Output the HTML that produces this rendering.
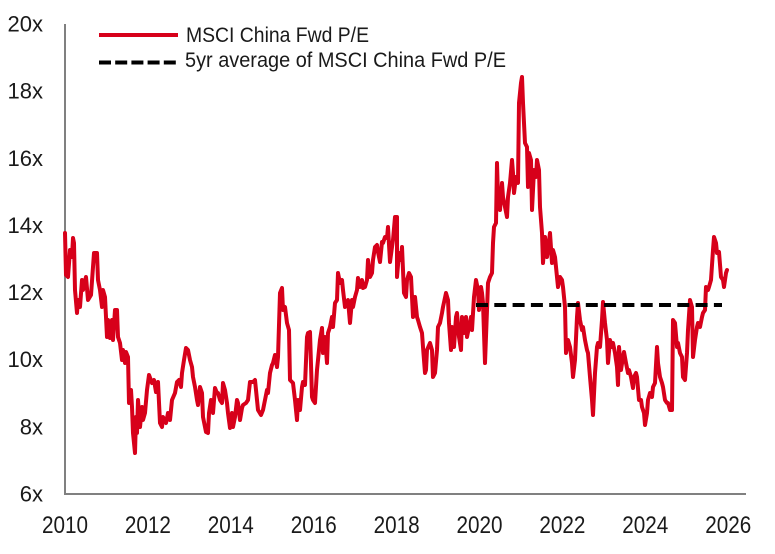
<!DOCTYPE html>
<html>
<head>
<meta charset="utf-8">
<style>
  html,body{margin:0;padding:0;background:#fff;}
  svg{display:block;}
  text{font-family:"Liberation Sans",Arial,sans-serif;fill:#1a1a1a;}
</style>
</head>
<body>
<svg width="775" height="554" viewBox="0 0 775 554" xmlns="http://www.w3.org/2000/svg">
  <!-- axes -->
  <line x1="65" y1="24" x2="65" y2="495" stroke="#808080" stroke-width="2"/>
  <line x1="64" y1="494" x2="746" y2="494" stroke="#808080" stroke-width="2"/>

  <!-- y labels -->
  <g font-size="22" text-anchor="end">
    <text x="43" y="31.5">20x</text>
    <text x="43" y="98.6">18x</text>
    <text x="43" y="165.8">16x</text>
    <text x="43" y="232.9">14x</text>
    <text x="43" y="300.1">12x</text>
    <text x="43" y="367.2">10x</text>
    <text x="43" y="434.4">8x</text>
    <text x="43" y="501.5">6x</text>
  </g>

  <!-- x labels -->
  <g font-size="24">
    <text x="42" y="533" textLength="46" lengthAdjust="spacingAndGlyphs">2010</text>
    <text x="124.9" y="533" textLength="46" lengthAdjust="spacingAndGlyphs">2012</text>
    <text x="207.8" y="533" textLength="46" lengthAdjust="spacingAndGlyphs">2014</text>
    <text x="290.7" y="533" textLength="46" lengthAdjust="spacingAndGlyphs">2016</text>
    <text x="373.6" y="533" textLength="46" lengthAdjust="spacingAndGlyphs">2018</text>
    <text x="456.5" y="533" textLength="46" lengthAdjust="spacingAndGlyphs">2020</text>
    <text x="539.4" y="533" textLength="46" lengthAdjust="spacingAndGlyphs">2022</text>
    <text x="622.3" y="533" textLength="46" lengthAdjust="spacingAndGlyphs">2024</text>
    <text x="705.2" y="533" textLength="46" lengthAdjust="spacingAndGlyphs">2026</text>
  </g>

  <!-- legend -->
  <line x1="99" y1="35" x2="178" y2="35" stroke="#d7001a" stroke-width="4"/>
  <text x="186" y="42" font-size="21" textLength="183" lengthAdjust="spacingAndGlyphs">MSCI China Fwd P/E</text>
  <line x1="99" y1="62.5" x2="180" y2="62.5" stroke="#000" stroke-width="4" stroke-dasharray="12,4.2"/>
  <text x="185" y="67" font-size="21" textLength="321" lengthAdjust="spacingAndGlyphs">5yr average of MSCI China Fwd P/E</text>

  <!-- series -->
  <polyline fill="none" stroke="#d7001a" stroke-width="4" stroke-linejoin="round" stroke-linecap="round"
    points="65,233 66,275 68,277 70,250 72,257 73,238 74,243 75,290 77,313 78,300 80,307 82,280 83,290 86,277 88,300 91,295 93,267 94,253 97,253 98,280 100,290 102,307 103,290 105,297 107,337 108,320 110,338 112,320 113,340 115,310 117,310 118,337 120,343 122,360 123,350 125,363 126,352 128,357 129,403 131,390 132,407 133,433 135,453 136,417 137,433 138,400 140,427 142,407 143,420 145,413 147,390 149,375 152,383 154,380 156,392 158,382 160,423 162,427 163,417 166,423 168,413 170,420 172,400 175,393 177,382 179,380 181,387 182,373 184,360 186,348 188,350 190,360 192,367 193,377 195,387 197,400 198,405 200,387 202,393 203,417 206,432 208,433 209,413 211,400 213,413 215,388 217,393 218,393 220,400 222,403 223,383 225,390 227,403 228,413 230,428 232,413 233,427 235,417 237,400 238,403 240,420 242,408 243,405 246,403 248,400 250,382 253,382 255,380 257,400 258,410 261,415 263,410 265,400 267,390 268,393 270,373 272,365 273,363 275,355 277,367 278,357 280,293 282,288 283,310 285,307 287,323 289,330 290,380 293,383 295,400 297,420 298,400 300,410 302,387 303,382 305,385 307,337 308,333 310,332 312,397 313,400 315,403 317,370 318,360 320,340 322,328 323,353 325,337 327,363 328,333 330,327 332,317 333,327 335,303 337,300 338,273 340,283 342,280 343,290 345,307 347,303 348,300 350,323 352,300 353,307 355,297 357,290 358,278 360,287 362,280 363,288 365,287 367,280 368,260 370,277 372,273 373,260 375,247 377,245 378,252 380,262 382,242 383,243 385,237 387,238 388,227 390,262 392,247 393,240 395,217 397,217 397,277 399,253 401,260 402,247 404,293 406,297 407,280 409,273 411,277 413,317 415,297 417,317 418,320 420,327 422,333 423,347 425,373 426,370 427,350 430,343 432,350 433,377 435,373 437,350 438,327 440,323 442,313 443,307 446,293 448,300 449,323 451,350 452,327 454,347 456,317 457,313 459,337 461,350 462,317 464,333 466,317 467,337 469,327 471,317 472,330 474,297 476,280 478,290 479,310 481,287 482,293 483,303 485,363 487,310 488,283 490,277 492,273 493,243 494,227 496,223 497,163 498,197 500,210 502,183 503,197 505,207 507,217 508,197 510,183 512,160 513,173 514,193 516,177 518,183 519,103 521,83 522,77 523,103 525,143 527,147 528,187 529,153 531,160 532,210 534,170 536,177 537,160 539,170 540,207 542,233 543,263 545,237 547,257 548,250 550,233 552,263 553,250 555,257 557,277 558,287 560,277 562,280 563,287 565,307 566,353 568,340 570,347 572,363 573,377 575,360 577,317 578,303 580,320 582,330 583,327 585,340 587,350 588,353 590,377 592,400 593,415 595,373 597,347 598,343 600,347 602,320 603,302 605,323 607,340 608,363 610,340 612,347 613,343 615,353 617,367 618,385 619,347 621,370 623,357 624,352 626,363 628,373 629,370 631,377 633,388 634,377 636,373 637,377 639,400 641,400 642,407 644,413 645,425 647,413 648,400 650,393 652,397 653,387 655,383 657,347 658,363 660,377 662,383 663,387 665,400 667,403 668,403 670,410 672,410 673,320 675,323 677,347 678,343 680,353 682,357 683,377 685,380 687,353 688,330 690,300 692,307 693,357 695,340 697,327 698,323 700,327 702,317 703,313 705,310 706,287 708,290 709,287 711,280 713,250 714,237 716,243 717,253 719,252 721,277 723,280 724,287 726,273 727,270"/>

  <!-- 5yr average dashed -->
  <line x1="476" y1="305" x2="722" y2="305" stroke="#000" stroke-width="4" stroke-dasharray="12,6.3"/>
</svg>
</body>
</html>
